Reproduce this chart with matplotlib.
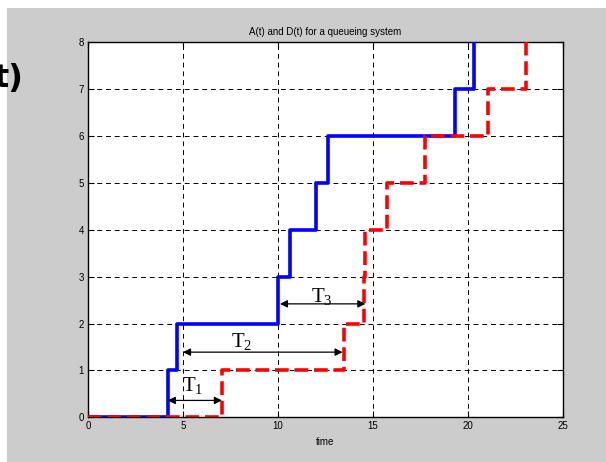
import matplotlib
matplotlib.use("Agg")
import matplotlib.pyplot as plt
from matplotlib.patches import Rectangle

# arrival and departure instants
arrival_times = [4.2, 4.7, 10.0, 10.65, 12.0, 12.65, 19.3, 20.3]
departure_times = [7.05, 13.45, 14.5, 14.6, 15.75, 17.75, 21.05, 23.05]
counts = list(range(len(arrival_times) + 1))

# delay arrows: (start, end, height, label, label x, label y)
delay_names = ["$\\mathrm{T_1}$", "$\\mathrm{T_2}$", "$\\mathrm{T_3}$"]
delay_start = [4.2, 5.0, 10.1]
delay_end = [7.05, 13.4, 14.6]
delay_level = [0.36, 1.39, 2.42]
label_x = [5.5, 8.1, 12.3]
label_y = [0.68, 1.62, 2.58]

x_ticks = [0, 5, 10, 15, 20, 25]
y_ticks = list(range(9))

plt.rcParams["font.family"] = ["Liberation Sans", "DejaVu Sans"]
plt.rcParams["mathtext.fontset"] = "custom"
plt.rcParams["mathtext.rm"] = "Liberation Serif"

fig = plt.figure(figsize=(6.06, 4.62), dpi=100)
fig.patch.set_facecolor("white")
fig.patches.append(Rectangle((7 / 606, 0), 1, 1 - 8 / 462, transform=fig.transFigure,
                             facecolor="#cccccc", edgecolor="none", zorder=-10))
# fragment of a neighbouring label, cut at the left edge as in the source
fig.text(23 / 606, 1 - 79 / 462, "t)", ha="right", va="center", fontsize=23,
         fontweight="bold", family="DejaVu Sans")

ax = fig.add_axes([88 / 606, 1 - 417.3 / 462, 475 / 606, 375 / 462])
ax.set_facecolor("white")

ax.step([0] + arrival_times, counts, where="post", color="blue", lw=2.6, zorder=3)
ax.step([0] + departure_times, counts, where="post", color="red", lw=2.6,
        linestyle=(0, (3.8, 1.6)), zorder=4)

for x0, x1, yl, name, lx, ly in zip(delay_start, delay_end, delay_level, delay_names, label_x, label_y):
    ax.annotate("", xy=(x1, yl), xytext=(x0, yl),
                arrowprops=dict(arrowstyle="<|-|>", color="black", lw=0.9,
                                mutation_scale=11, shrinkA=0, shrinkB=0), zorder=5)
    ax.text(lx, ly, name, ha="center", va="center", fontsize=15, zorder=5)

ax.set_xlim(0, 25)
ax.set_ylim(0, 8)
ax.set_xticks(x_ticks)
ax.set_yticks(y_ticks)
ax.tick_params(direction="in", top=True, right=True, labelsize=7, length=4, pad=3)
ax.grid(True, color="black", linestyle=(0, (5, 4)), linewidth=0.7)
for sp in ax.spines.values():
    sp.set_linewidth(1.0)

ax.set_title("A(t) and D(t) for a queueing system", fontsize=7, pad=5)
ax.set_xlabel("time", fontsize=7, labelpad=4)

fig.savefig("out.png", dpi=100, facecolor=fig.get_facecolor())
